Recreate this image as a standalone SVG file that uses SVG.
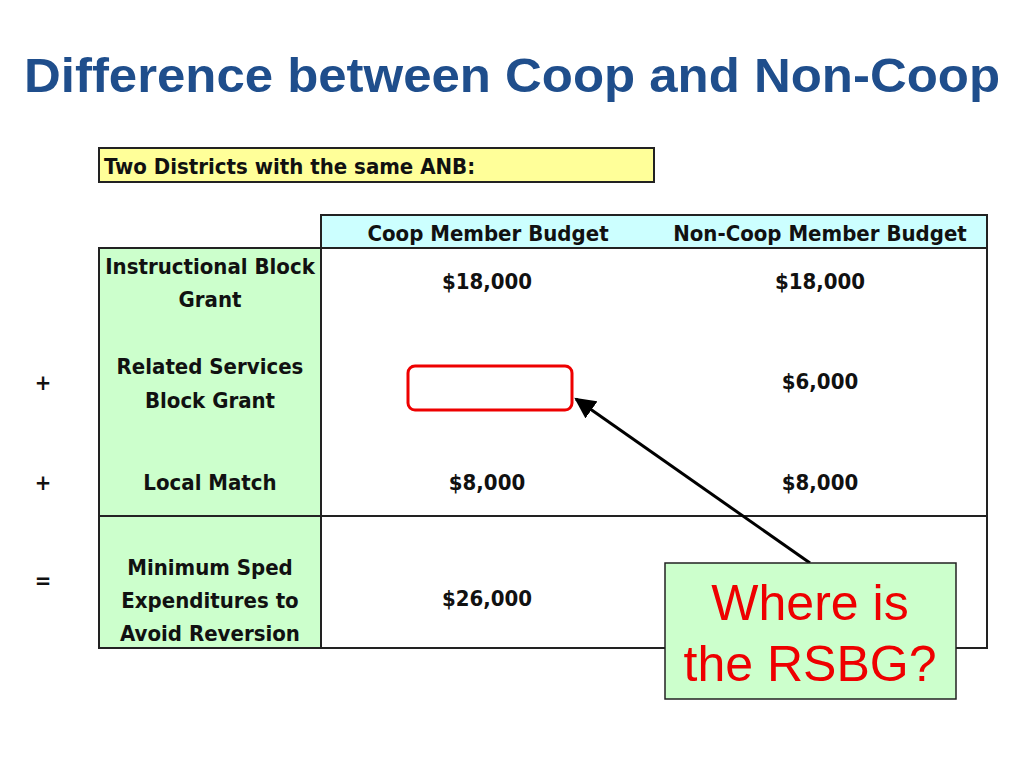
<svg xmlns="http://www.w3.org/2000/svg" width="1024" height="768" viewBox="0 0 1024 768">
<style>
.t{font-family:"DejaVu Sans Condensed","Liberation Sans",sans-serif;font-weight:bold;font-size:22px;fill:#111;text-anchor:middle}
.l{stroke:#222;stroke-width:2}
</style>
<defs><marker id="a" viewBox="0 0 10 10" refX="9" refY="5" markerWidth="7" markerHeight="7" orient="auto"><path d="M0,0L10,5L0,10z" fill="#000"/></marker></defs>
<rect width="1024" height="768" fill="#fff"/>
<text x="24" y="92" textLength="976" lengthAdjust="spacingAndGlyphs" font-family="Liberation Sans,Arial,sans-serif" font-weight="bold" font-size="48" fill="#1f4e8c">Difference between Coop and Non-Coop</text>
<g id="note"><rect x="99" y="148" width="555" height="34" fill="#ffff99" class="l"/><text class="t" x="104" y="174" style="text-anchor:start">Two Districts with the same ANB:</text></g>
<g id="table">
<rect x="321" y="215" width="666" height="33" fill="#ccffff" class="l"/>
<rect x="99" y="248" width="222" height="400" fill="#ccffcc" class="l"/>
<rect x="321" y="248" width="666" height="400" fill="#fff" class="l"/>
<line x1="99" y1="516" x2="987" y2="516" class="l"/>
<text class="t" x="488" y="241">Coop Member Budget</text>
<text class="t" x="820" y="241">Non-Coop Member Budget</text>
<text class="t" x="210" y="274">Instructional Block</text>
<text class="t" x="210" y="307">Grant</text>
<text class="t" x="210" y="374">Related Services</text>
<text class="t" x="210" y="408">Block Grant</text>
<text class="t" x="210" y="490">Local Match</text>
<text class="t" x="210" y="575">Minimum Sped</text>
<text class="t" x="210" y="608">Expenditures to</text>
<text class="t" x="210" y="641">Avoid Reversion</text>
<text class="t" x="487" y="289">$18,000</text>
<text class="t" x="820" y="289">$18,000</text>
<text class="t" x="820" y="389">$6,000</text>
<text class="t" x="487" y="490">$8,000</text>
<text class="t" x="820" y="490">$8,000</text>
<text class="t" x="487" y="606">$26,000</text>
<text class="t" x="43" y="390">+</text>
<text class="t" x="43" y="490">+</text>
<text class="t" x="43" y="588">=</text>
</g>
<g id="highlight"><rect x="408" y="366" width="164" height="44" rx="7" fill="none" stroke="#e00" stroke-width="3"/></g>
<g id="connectors"><line x1="810" y1="563" x2="576" y2="399" stroke="#000" stroke-width="3" marker-end="url(#a)"/></g>
<g id="callout"><rect x="665" y="563" width="291" height="136" fill="#ccffcc" stroke="#222" stroke-width="1.5"/>
<text x="810" y="620" font-family="Liberation Sans,Arial,sans-serif" font-size="50" fill="#e00" text-anchor="middle">Where is</text>
<text x="810" y="681" font-family="Liberation Sans,Arial,sans-serif" font-size="50" fill="#e00" text-anchor="middle">the RSBG?</text></g>
</svg>
